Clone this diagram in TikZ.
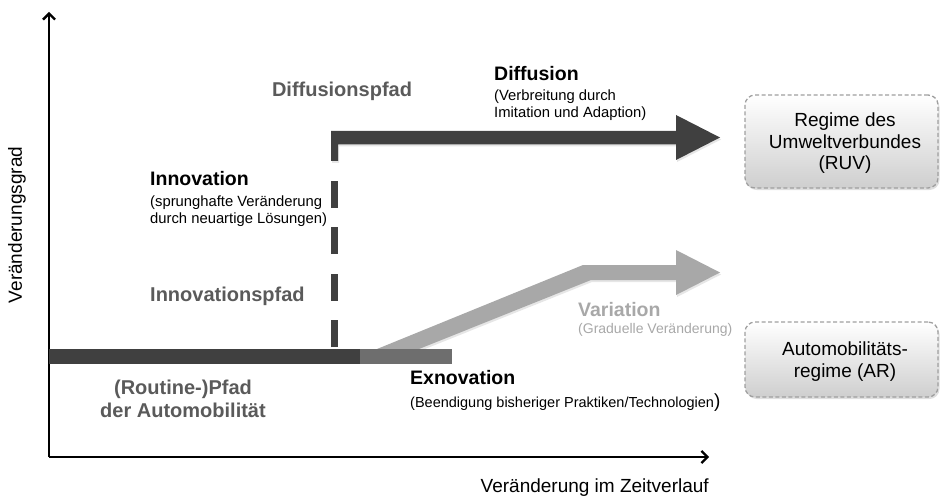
\documentclass[tikz,border=0pt]{standalone}
\usepackage{fontspec}
\setmainfont{Liberation Sans}
\usetikzlibrary{arrows.meta,shadows}
\definecolor{pathdark}{HTML}{404040}
\definecolor{pathmid}{HTML}{6E6E6E}
\definecolor{pathlight}{HTML}{A8A8A8}
\definecolor{labelgray}{HTML}{5A5A5A}
\tikzset{
  heading/.style={inner sep=0pt, anchor=west, font=\fontsize{19.5}{22}\selectfont\bfseries},
  pathlabel/.style={inner sep=0pt, font=\fontsize{20}{23}\selectfont\bfseries, text=labelgray},
  remark/.style={inner sep=0pt, anchor=west, align=left, font=\fontsize{14.8}{17}\selectfont},
  axis/.style={line width=2.3pt, -{Straight Barb[length=6pt,width=12pt,line width=2.3pt]}},
  regime/.style={rounded corners=10pt, draw=gray!75, dashed, dash pattern=on 4pt off 2.5pt,
    line width=1.3pt, top color=white, bottom color=gray!38,
    drop shadow={opacity=0.25, shadow xshift=1.5pt, shadow yshift=-2pt}},
  regimetext/.style={inner sep=0pt, align=center, font=\fontsize{19}{21.5}\selectfont},
  pathshadow/.style={drop shadow={opacity=0.2, shadow xshift=1pt, shadow yshift=-2pt}}
}
\begin{document}
\begin{tikzpicture}[x=1pt,y=-1pt]
\useasboundingbox (0,0) rectangle (941,497);

% axes
\coordinate (origin) at (49,457);
\coordinate (ytip) at (49,12);
\coordinate (xtip) at (709,457);
\draw[axis] (origin) -- (ytip);
\draw[axis] (origin) -- (xtip);
\node[rotate=90, inner sep=0pt, font=\fontsize{19}{21}\selectfont] (ylabel) at (17,225) {Veränderungsgrad};
\node[inner sep=0pt, anchor=east, font=\fontsize{19}{22}\selectfont] (xlabel) at (709,488) {Veränderung im Zeitverlauf};

% variation path (gradual change)
\fill[pathlight, pathshadow] (377,349) -- (583,265) -- (676,265) -- (676,250) -- (720,272.5)
  -- (676,295) -- (676,280) -- (591,280) -- (419,349) -- cycle;

% routine path and exnovation section
\fill[pathdark] (49,349) rectangle (360,364);
\fill[pathmid] (360,349) rectangle (452,364);

% innovation jump (dashed) and diffusion path
\draw[pathdark, line width=6.5pt, dash pattern=on 27pt off 19.5pt] (334.5,347) -- (334.5,161);
\fill[pathdark, pathshadow] (331,161) -- (331,131) -- (676,131) -- (676,115) -- (720,137.5)
  -- (676,160) -- (676,144.5) -- (338,144.5) -- (338,161) -- cycle;

% regimes
\node[regime, minimum width=193pt, minimum height=93pt] (ruv) at (841.5,141.5) {};
\node[regimetext] (ruvtext) at (845,143.5) {Regime des\\Umweltverbundes\\(RUV)};
\node[regime, minimum width=193pt, minimum height=75pt] (ar) at (841.5,359.5) {};
\node[regimetext, font=\fontsize{19}{22.5}\selectfont] (artext) at (845,361.5) {Automobilitäts-\\regime (AR)};

% path labels
\node[pathlabel] (diffpfad) at (342,91) {Diffusionspfad};
\node[pathlabel, anchor=west] (innopfad) at (150,296) {Innovationspfad};
\node[pathlabel, align=center, font=\fontsize{20}{23}\selectfont\bfseries] (routine) at (183,398.5) {(Routine-)Pfad\\der Automobilität};

% process labels
\node[heading] (diffusion) at (494,74) {Diffusion};
\node[remark] (diffusiontext) at (494,105) {(Verbreitung durch\\Imitation und Adaption)};
\node[heading] (innovation) at (150,179) {Innovation};
\node[remark] (innovationtext) at (150,211.5) {(sprunghafte Veränderung\\durch neuartige Lösungen)};
\node[heading, text=pathlight] (variation) at (578,310) {Variation};
\node[remark, text=pathlight, font=\fontsize{14}{17}\selectfont] (variationtext) at (578,330) {(Graduelle Veränderung)};
\node[heading] (exnovation) at (410,378) {Exnovation};
\node[remark, font=\fontsize{14.5}{17}\selectfont] (exnovationtext) at (410,403) {(Beendigung bisheriger Praktiken/Technologien{\fontsize{19}{20}\selectfont)}};
\end{tikzpicture}
\end{document}
